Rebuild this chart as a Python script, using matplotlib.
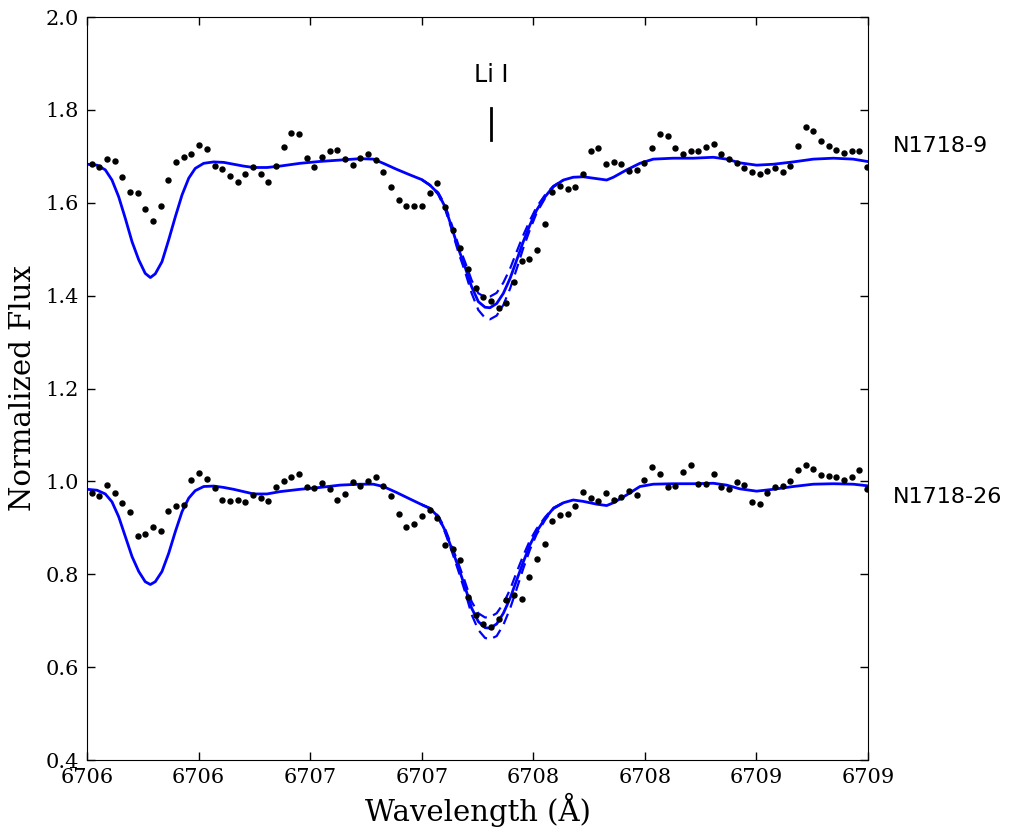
import numpy as np
import matplotlib
matplotlib.use('Agg')
import matplotlib.pyplot as plt
from matplotlib.ticker import FormatStrFormatter

# observed spectra: uniform wavelength grid, 102 pixels
wl_start = 6706.021
wl_step = 0.03441
n_pix = 102

flux_9 = [1.683, 1.676, 1.694, 1.689, 1.655, 1.623, 1.620, 1.587, 1.561, 1.592, 1.650, 1.688,
          1.699, 1.705, 1.724, 1.715, 1.680, 1.673, 1.657, 1.645, 1.663, 1.678, 1.661, 1.645,
          1.679, 1.720, 1.750, 1.748, 1.696, 1.678, 1.698, 1.712, 1.713, 1.694,
          1.681, 1.696, 1.704, 1.693, 1.667, 1.633, 1.605, 1.592, 1.594, 1.594, 1.620, 1.643,
          1.590, 1.541, 1.502, 1.457, 1.416, 1.398, 1.388, 1.373, 1.384, 1.429, 1.474, 1.480,
          1.498, 1.555, 1.624, 1.637, 1.629, 1.635, 1.663, 1.711, 1.718, 1.684,
          1.688, 1.683, 1.669, 1.671, 1.686, 1.719, 1.749, 1.744, 1.717, 1.704, 1.712, 1.711,
          1.721, 1.727, 1.706, 1.694, 1.686, 1.674, 1.667, 1.663, 1.668, 1.674, 1.666, 1.679,
          1.722, 1.763, 1.755, 1.732, 1.722, 1.713, 1.708, 1.711, 1.711, 1.677]

flux_26 = [0.976, 0.969, 0.992, 0.974, 0.954, 0.934, 0.882, 0.887, 0.902, 0.894, 0.936, 0.946,
           0.949, 1.004, 1.019, 1.005, 0.985, 0.961, 0.958, 0.959, 0.955, 0.970, 0.964, 0.958,
           0.989, 1.001, 1.009, 1.016, 0.989, 0.985, 0.996, 0.984, 0.961, 0.973,
           0.998, 0.991, 1.001, 1.009, 0.991, 0.968, 0.930, 0.902, 0.908, 0.926, 0.938, 0.921,
           0.864, 0.854, 0.831, 0.752, 0.712, 0.693, 0.686, 0.704, 0.745, 0.755, 0.747, 0.795,
           0.832, 0.865, 0.915, 0.928, 0.930, 0.948, 0.977, 0.964, 0.958, 0.975,
           0.959, 0.966, 0.979, 0.970, 1.004, 1.030, 1.015, 0.988, 0.991, 1.020, 1.035, 0.994,
           0.995, 1.015, 0.989, 0.984, 0.998, 0.993, 0.955, 0.951, 0.974, 0.989, 0.990, 1.001,
           1.024, 1.035, 1.026, 1.014, 1.012, 1.010, 1.003, 1.010, 1.024, 0.984]

# synthetic (best fit) spectra
wl_syn = [6706.000, 6706.045, 6706.082, 6706.112, 6706.142, 6706.172, 6706.202, 6706.232,
          6706.261, 6706.284, 6706.306, 6706.336, 6706.366, 6706.396, 6706.426, 6706.456,
          6706.485, 6706.523, 6706.568, 6706.613, 6706.657, 6706.702, 6706.747, 6706.807,
          6706.865, 6706.955, 6707.044, 6707.134, 6707.223, 6707.283, 6707.328, 6707.388,
          6707.448, 6707.500, 6707.537, 6707.574, 6707.604, 6707.634, 6707.664, 6707.694,
          6707.724, 6707.754, 6707.784, 6707.806, 6707.836, 6707.866, 6707.896, 6707.926,
          6707.955, 6707.985, 6708.015, 6708.053, 6708.090, 6708.135, 6708.179, 6708.224,
          6708.284, 6708.329, 6708.359, 6708.419, 6708.478, 6708.538, 6708.627, 6708.717,
          6708.807, 6708.867, 6708.926, 6709.001, 6709.076, 6709.165, 6709.255, 6709.345,
          6709.434, 6709.509]

syn_9 = [1.683, 1.681, 1.671, 1.649, 1.613, 1.566, 1.516, 1.477, 1.448, 1.439, 1.447, 1.473,
         1.520, 1.570, 1.617, 1.653, 1.674, 1.685, 1.688, 1.687, 1.683, 1.679, 1.676, 1.676,
         1.679, 1.685, 1.689, 1.692, 1.695, 1.694, 1.685, 1.672, 1.660, 1.650, 1.638, 1.620,
         1.592, 1.548, 1.502, 1.462, 1.419, 1.387, 1.375, 1.374, 1.383, 1.405, 1.437, 1.477,
         1.516, 1.552, 1.584, 1.613, 1.635, 1.649, 1.655, 1.656, 1.652, 1.649, 1.655, 1.671,
         1.685, 1.694, 1.696, 1.696, 1.698, 1.694, 1.686, 1.681, 1.683, 1.688, 1.694, 1.696,
         1.694, 1.688]

syn_26 = [0.983, 0.981, 0.973, 0.956, 0.924, 0.881, 0.838, 0.806, 0.784, 0.778, 0.784, 0.806,
          0.845, 0.892, 0.935, 0.964, 0.980, 0.989, 0.990, 0.987, 0.983, 0.978, 0.973, 0.973,
          0.978, 0.983, 0.987, 0.992, 0.994, 0.994, 0.989, 0.976, 0.962, 0.950, 0.942, 0.924,
          0.895, 0.856, 0.816, 0.773, 0.727, 0.698, 0.685, 0.684, 0.693, 0.716, 0.748, 0.788,
          0.826, 0.863, 0.892, 0.920, 0.942, 0.954, 0.960, 0.957, 0.951, 0.948, 0.954, 0.971,
          0.989, 0.994, 0.995, 0.995, 0.996, 0.992, 0.984, 0.979, 0.983, 0.989, 0.994, 0.995,
          0.994, 0.990]

# Li abundance +/- error syntheses (only differ around the Li line)
wl_err = [6707.500, 6707.537, 6707.574, 6707.604, 6707.634, 6707.664, 6707.694, 6707.724,
          6707.754, 6707.784, 6707.806, 6707.836, 6707.866, 6707.896, 6707.926, 6707.955,
          6707.985, 6708.015, 6708.053, 6708.090, 6708.135]

lo_9 = [1.650, 1.638, 1.618, 1.588, 1.543, 1.494, 1.452, 1.405, 1.369, 1.352, 1.349, 1.357,
        1.380, 1.415, 1.458, 1.502, 1.542, 1.578, 1.610, 1.634, 1.649]
hi_9 = [1.650, 1.638, 1.622, 1.596, 1.554, 1.510, 1.473, 1.433, 1.405, 1.397, 1.398, 1.406,
        1.428, 1.458, 1.495, 1.530, 1.562, 1.591, 1.617, 1.636, 1.649]
lo_26 = [0.950, 0.942, 0.922, 0.891, 0.851, 0.808, 0.763, 0.713, 0.680, 0.663, 0.660, 0.667,
         0.691, 0.726, 0.769, 0.812, 0.853, 0.886, 0.917, 0.941, 0.954]
hi_26 = [0.950, 0.942, 0.926, 0.899, 0.862, 0.824, 0.784, 0.741, 0.716, 0.707, 0.708, 0.716,
         0.737, 0.767, 0.805, 0.840, 0.873, 0.898, 0.923, 0.943, 0.954]

li_wl = 6707.81
star_names = ['N1718-9', 'N1718-26']
star_levels = [1.722, 0.966]

wl_obs = wl_start + wl_step * np.arange(n_pix)

serif = ['DejaVu Serif Condensed', 'DejaVu Serif']

fig = plt.figure(figsize=(10.21, 8.31), dpi=100)
ax = fig.add_axes([0.0852, 0.0854, 0.7649, 0.8941])

for flux, syn, lo, hi in [(flux_9, syn_9, lo_9, hi_9), (flux_26, syn_26, lo_26, hi_26)]:
    ax.plot(wl_syn, syn, color='b', lw=2)
    ax.plot(wl_err, lo, color='b', lw=1.6, ls='--', dashes=(5, 3))
    ax.plot(wl_err, hi, color='b', lw=1.6, ls='--', dashes=(5, 3))
    ax.plot(wl_obs, flux, 'o', color='k', ms=3.6, mec='k')

# Li I marker
ax.plot([li_wl, li_wl], [1.735, 1.804], color='k', lw=2)
ax.text(li_wl, 1.875, 'Li I', ha='center', va='center', fontsize=17, family='DejaVu Sans')

for name, lev in zip(star_names, star_levels):
    ax.text(6709.612, lev, name, ha='left', va='center', fontsize=16, family='DejaVu Sans')

ax.set_xlim(6706.0, 6709.5)
ax.set_ylim(0.4, 2.0)
ax.set_xticks(np.arange(6706.0, 6709.51, 0.5))
ax.set_yticks(np.arange(0.4, 2.01, 0.2))
ax.xaxis.set_major_formatter(FormatStrFormatter('%d'))
ax.yaxis.set_major_formatter(FormatStrFormatter('%.1f'))
ax.tick_params(direction='in', top=True, right=True, length=6, width=1, pad=6)
for lab in ax.get_xticklabels() + ax.get_yticklabels():
    lab.set_family(serif)
    lab.set_fontsize(15)

ax.set_xlabel('Wavelength (Å)', fontsize=21, family=serif, labelpad=4)
ax.set_ylabel('Normalized Flux', fontsize=21, family=serif, labelpad=6)

fig.savefig('out.png', dpi=100)
